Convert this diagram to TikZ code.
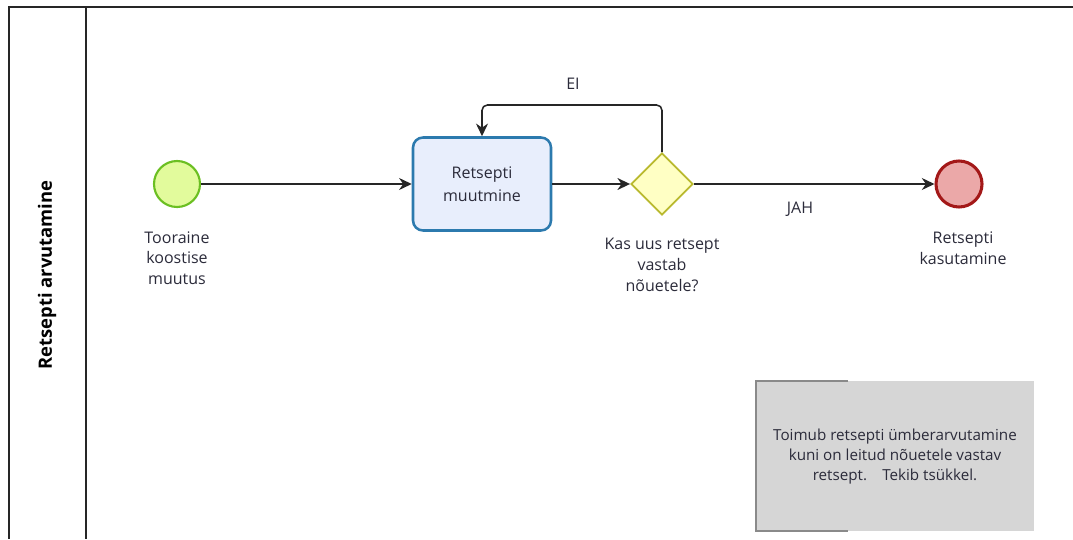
\documentclass[tikz,border=0pt]{standalone}
\usepackage{fontspec}
\setmainfont{Open Sans}
\usetikzlibrary{shapes.geometric,arrows.meta}
\definecolor{txt}{HTML}{2B2B3A}
\definecolor{startfill}{HTML}{E2FB9C}
\definecolor{startdraw}{HTML}{6BBF22}
\definecolor{taskfill}{HTML}{E8EEFC}
\definecolor{taskdraw}{HTML}{2C7AAE}
\definecolor{gwfill}{HTML}{FFFFC4}
\definecolor{gwdraw}{HTML}{B9B92E}
\definecolor{endfill}{HTML}{EBA8A8}
\definecolor{enddraw}{HTML}{A31818}
\definecolor{annofill}{HTML}{D6D6D6}
\definecolor{annodraw}{HTML}{8A8A8A}
\begin{document}
\begin{tikzpicture}[x=0.75pt,y=-0.75pt,
  lbl/.style={font=\fontsize{12}{15.5}\selectfont, text=txt, align=center, inner sep=0pt},
  startev/.style={circle, draw=startdraw, fill=startfill, line width=1.6pt, minimum size=34.5pt, inner sep=0pt},
  endev/.style={circle, draw=enddraw, fill=endfill, line width=2.3pt, minimum size=34.5pt, inner sep=0pt},
  taskbox/.style={rectangle, rounded corners=7.5pt, draw=taskdraw, fill=taskfill, line width=1.9pt, minimum width=103.5pt, minimum height=69.75pt, align=center, font=\fontsize{12}{17}\selectfont, text=txt},
  gateway/.style={diamond, draw=gwdraw, fill=gwfill, line width=1.4pt, minimum width=46.5pt, minimum height=46.5pt, inner sep=0pt},
  flow/.style={draw=black!85, line width=1.15pt, -{Stealth[length=9.5pt,width=9pt]}},
  pool/.style={draw=black!85, line width=1.3pt}
]
\useasboundingbox (0,0) rectangle (1073,539);
% pool and lane
\draw[pool] (1073,7) -- (9,7) -- (9,539);
\draw[pool] (86,7) -- (86,539);
\node[rotate=90, font=\bfseries\fontsize{13.8}{16}\selectfont, text=black] (lane) at (47,275) {Retsepti arvutamine};
% nodes
\node[startev] (start) at (177,184) {};
\node[taskbox] (task) at (482,184) {Retsepti\\muutmine};
\node[gateway] (gw) at (662,184) {};
\node[endev] (end) at (959,184) {};
% labels
\node[lbl] (startlbl) at (177,258) {Tooraine\\koostise\\muutus};
\node[lbl] (gwlbl) at (662,265) {Kas uus retsept\\vastab\\nõuetele?};
\node[lbl] (endlbl) at (963,248) {Retsepti\\kasutamine};
\node[lbl] (ei) at (573,84) {EI};
\node[lbl] (jah) at (800,209) {JAH};
% flows
\coordinate (loopR) at (662,105);
\coordinate (loopL) at (482,105);
\draw[flow] (start) -- (task);
\draw[flow] (task) -- (gw);
\draw[flow] (gw) -- (end);
\draw[flow, rounded corners=4pt] (gw.north) -- (loopR) -- (loopL) -- (task.north);
% annotation
\fill[annofill] (756,381) rectangle (1034,531);
\draw[draw=annodraw, line width=1.1pt] (848,381) -- (756,381) -- (756,531) -- (848,531);
\node[lbl, font=\fontsize{11.4}{15}\selectfont] (anno) at (895,457) {Toimub retsepti ümberarvutamine\\kuni on leitud nõuetele vastav\\retsept.\quad Tekib tsükkel.};
\end{tikzpicture}
\end{document}
